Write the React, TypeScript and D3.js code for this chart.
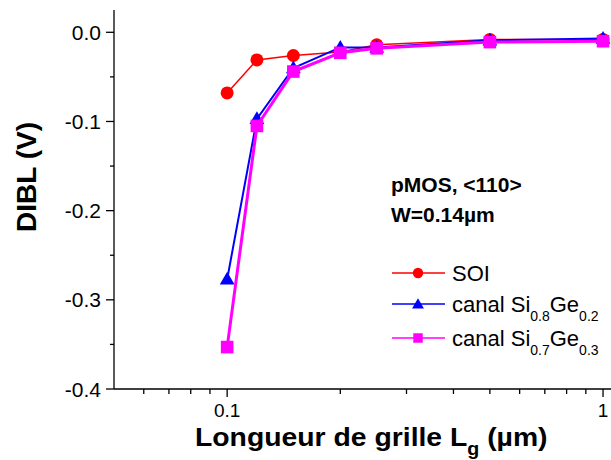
import React from "react";
import * as d3 from "d3";

const lengths = [0.1, 0.12, 0.15, 0.2, 0.25, 0.5, 1.0];
const soi = [-0.068, -0.031, -0.026, -0.022, -0.014, -0.008, -0.008];
const sige02 = [-0.277, -0.097, -0.040, -0.017, -0.017, -0.009, -0.007];
const sige03 = [-0.353, -0.105, -0.044, -0.023, -0.018, -0.011, -0.010];
const yTicks = [0, -0.1, -0.2, -0.3, -0.4];
const yTickLabels = ["0.0", "-0.1", "-0.2", "-0.3", "-0.4"];
const yMinor = [-0.05, -0.15, -0.25, -0.35];
const xMajor = [0.1, 1];
const xTickLabels = ["0.1", "1"];
const xMinor = [0.06, 0.07, 0.08, 0.09, 0.2, 0.3, 0.4, 0.5, 0.6, 0.7, 0.8, 0.9];

const FONT = "'Liberation Sans', Arial, sans-serif";

export default function App() {
  const W = 611, H = 460;
  const x = d3.scaleLog().domain([0.05, 1.05]).range([114, 611]);
  const y = d3.scaleLinear().domain([-0.4, 0.025]).range([389, 10]);
  const line = d3.line<[number, number]>().x(d => x(d[0])).y(d => y(d[1]));

  const series = [
    { name: "soi", vals: soi, color: "#ff0000", width: 1.5, marker: "circle" },
    { name: "sige02", vals: sige02, color: "#0000ff", width: 2, marker: "triangle" },
    { name: "sige03", vals: sige03, color: "#ff00ff", width: 3, marker: "square" },
  ];

  const marker = (kind: string, cx: number, cy: number, color: string, key: any, s = 1) => {
    if (kind === "circle") return <circle key={key} cx={cx} cy={cy} r={6.5 * s} fill={color} />;
    if (kind === "triangle") {
      const sym = d3.symbol().type(d3.symbolTriangle).size(95 * s * s)();
      return <path key={key} d={sym as string} transform={`translate(${cx},${cy + 1})`} fill={color} />;
    }
    const h = 6.3 * s;
    return <rect key={key} x={cx - h} y={cy - h} width={2 * h} height={2 * h} fill={color} />;
  };

  const legendRows = [
    { y: 273, color: "#ff0000", marker: "circle", label: <tspan>SOI</tspan>, s: 0.8 },
    {
      y: 304, color: "#0000ff", marker: "triangle", s: 0.8,
      label: (<>
        <tspan>canal Si</tspan><tspan fontSize={14} dy={9}>0.8</tspan>
        <tspan dy={-9}>Ge</tspan><tspan fontSize={14} dy={9}>0.2</tspan>
      </>),
    },
    {
      y: 338, color: "#ff00ff", marker: "square", s: 0.75,
      label: (<>
        <tspan>canal Si</tspan><tspan fontSize={14} dy={9}>0.7</tspan>
        <tspan dy={-9}>Ge</tspan><tspan fontSize={14} dy={9}>0.3</tspan>
      </>),
    },
  ];

  return (
    <svg width={W} height={H} style={{ position: "absolute", left: 0, top: 0, background: "#fff" }} fontFamily={FONT}>
      <rect width={W} height={H} fill="#fff" />
      {/* axes */}
      <line x1={114} x2={114} y1={10} y2={389} stroke="#000" strokeWidth={1.3} />
      <line x1={114} x2={611} y1={389} y2={389} stroke="#000" strokeWidth={1.3} />
      {yTicks.map((t, i) => (
        <g key={"yt" + t}>
          <line x1={106} x2={114} y1={y(t)} y2={y(t)} stroke="#000" strokeWidth={1.3} />
          <text x={101} y={y(t)} dy="0.36em" textAnchor="end" fontSize={21} fill="#000">
            {yTickLabels[i]}
          </text>
        </g>
      ))}
      {yMinor.map(t => (
        <line key={"ym" + t} x1={110} x2={114} y1={y(t)} y2={y(t)} stroke="#000" strokeWidth={1.3} />
      ))}
      {xMajor.map((t, i) => (
        <g key={"xt" + t}>
          <line x1={x(t)} x2={x(t)} y1={389} y2={397} stroke="#000" strokeWidth={1.3} />
          <text x={x(t)} y={417} textAnchor="middle" fontSize={19} fill="#000">{xTickLabels[i]}</text>
        </g>
      ))}
      {xMinor.map(t => (
        <line key={"xm" + t} x1={x(t)} x2={x(t)} y1={389} y2={394} stroke="#000" strokeWidth={1.3} />
      ))}
      {/* series */}
      {series.map(s => (
        <g key={s.name}>
          <path d={line(lengths.map((l, i) => [l, s.vals[i]]) as [number, number][]) as string}
            fill="none" stroke={s.color} strokeWidth={s.width} />
          {lengths.map((l, i) => marker(s.marker, x(l), y(s.vals[i]), s.color, i))}
        </g>
      ))}
      {/* annotation */}
      <text x={391} y={192} fontSize={21} fontWeight="bold" fill="#000">pMOS, &lt;110&gt;</text>
      <text x={391} y={222} fontSize={21} fontWeight="bold" fill="#000">W=0.14µm</text>
      {/* legend */}
      {legendRows.map((r, i) => (
        <g key={"lg" + i}>
          <line x1={392} x2={445} y1={r.y} y2={r.y} stroke={r.color} strokeWidth={1.5} />
          {marker(r.marker, 418, r.y, r.color, "m", r.s)}
          <text x={452} y={r.y} dy="0.36em" fontSize={22} fill="#000">{r.label}</text>
        </g>
      ))}
      {/* axis titles */}
      <text transform="translate(36,177) rotate(-90)" textAnchor="middle" fontSize={28} fontWeight="bold" fill="#000">
        DIBL (V)
      </text>
      <text transform="translate(195,446) scale(1.09,1)" fontSize={26} fontWeight="bold" fill="#000">
        <tspan>Longueur de grille L</tspan><tspan fontSize={18} dy={9}>g</tspan><tspan dy={-9}> (µm)</tspan>
      </text>
    </svg>
  );
}
